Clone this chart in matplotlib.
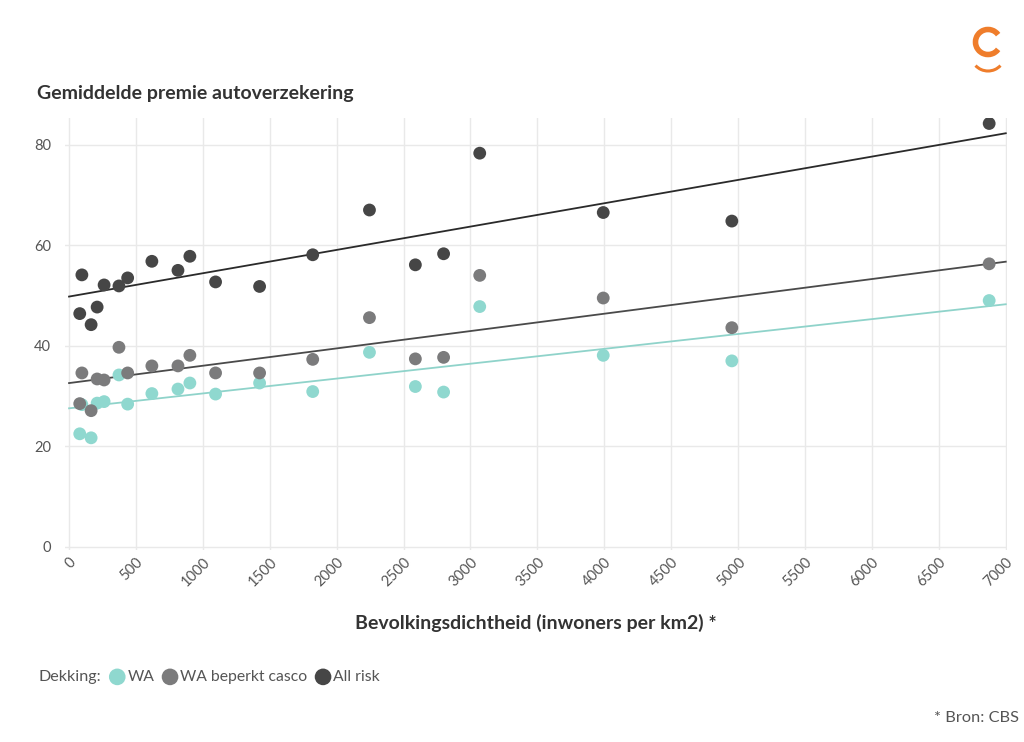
import numpy as np
import matplotlib
matplotlib.use('Agg')
import matplotlib.pyplot as plt
from matplotlib.patches import Arc

plt.rcParams['font.family'] = ['Lato', 'DejaVu Sans']

# bevolkingsdichtheid (inwoners per km2)
dichtheid = [80, 96, 165, 210, 262, 373, 438, 619, 814, 903, 1095, 1424, 1821,
             2245, 2588, 2799, 3069, 3992, 4953, 6876]
# gemiddelde premie per dekking
wa = [22.5, 28.3, 21.7, 28.6, 28.9, 34.2, 28.4, 30.5, 31.4, 32.6, 30.4, 32.6, 30.9,
      38.7, 31.9, 30.8, 47.8, 38.1, 37.0, 49.0]
wa_casco = [28.5, 34.6, 27.1, 33.4, 33.2, 39.7, 34.6, 36.0, 36.0, 38.1, 34.6, 34.6, 37.3,
            45.6, 37.4, 37.7, 54.0, 49.5, 43.6, 56.3]
all_risk = [46.4, 54.1, 44.2, 47.7, 52.1, 51.9, 53.5, 56.8, 55.0, 57.8, 52.7, 51.8, 58.1,
            67.0, 56.1, 58.3, 78.3, 66.5, 64.8, 84.2]

namen = ['WA', 'WA beperkt casco', 'All risk']
kleuren = ['#8fd8cf', '#7b7b7c', '#464646']
lijnkleuren = ['#8fd3ca', '#4a4a4a', '#2a2a2a']

fig = plt.figure(figsize=(10.24, 7.42), dpi=100)
ax = fig.add_axes([0.0635, 0.2588, 0.920, 0.5822])

x = np.array(dichtheid)
handles = []
for serie, kleur, lkleur, naam in zip([wa, wa_casco, all_risk], kleuren, lijnkleuren, namen):
    y = np.array(serie)
    h = ax.scatter(x, y, s=85, color=kleur, edgecolors='none', zorder=3, label=naam)
    handles.append(h)
    a, b = np.polyfit(x, y, 1)
    xs = np.array([0, 7000])
    ax.plot(xs, a * xs + b, color=lkleur, lw=1.3, zorder=2)

ax.set_xlim(-30, 7010)
ax.set_ylim(-0.6, 85.3)
ax.set_xticks(range(0, 7001, 500))
ax.set_yticks(range(0, 81, 20))
ax.tick_params(length=0, labelsize=10.5, labelcolor='#555555')
ax.tick_params(axis='y', pad=10)
for lbl in ax.get_xticklabels():
    lbl.set_rotation(45)
    lbl.set_ha('right')
    lbl.set_rotation_mode('anchor')
ax.grid(True, color='#e9e9e9', lw=1)
ax.set_axisbelow(True)
for s in ax.spines.values():
    s.set_visible(False)

ax.set_xlabel('Bevolkingsdichtheid (inwoners per km2) *', fontsize=14, fontweight='bold',
              color='#333333', labelpad=18)

fig.text(37 / 1024, 1 - 93 / 742, 'Gemiddelde premie autoverzekering', fontsize=14,
         fontweight='bold', color='#333333', va='center', ha='left')

# legenda
fig.text(38 / 1024, 1 - 677 / 742, 'Dekking:', fontsize=11.6, color='#555555', va='center')
fig.legend(handles=handles, labels=namen, loc='center left',
           bbox_to_anchor=(100 / 1024, 1 - 677 / 742), ncol=3, frameon=False,
           fontsize=11.3, handletextpad=0.05, columnspacing=0.4, markerscale=1.3,
           borderpad=0, handlelength=1.2, labelcolor='#555555')

fig.text(1019 / 1024, 1 - 718 / 742, '* Bron: CBS', fontsize=11.8, color='#555555',
         ha='right', va='center')

# logo
oranje = '#ef7d2b'
fig.add_artist(Arc((988 / 1024, 1 - 42 / 742), 25 / 1024, 25 / 742, theta1=45, theta2=315,
                   color=oranje, lw=4, transform=fig.transFigure))
fig.add_artist(Arc((988 / 1024, 1 - 54 / 742), 34 / 1024, 34 / 742, theta1=232, theta2=308,
                   color=oranje, lw=2.2, transform=fig.transFigure))

fig.savefig('out.png', dpi=100)
